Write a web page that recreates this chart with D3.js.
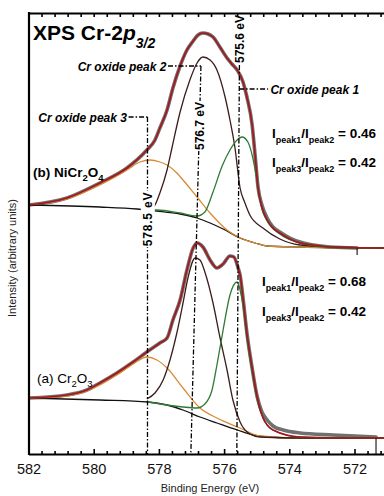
<!DOCTYPE html>
<html><head><meta charset="utf-8">
<script src="https://cdn.jsdelivr.net/npm/d3@7"></script>
<style>
html,body{margin:0;padding:0;background:#fff;}
svg{display:block;font-family:"Liberation Sans",Arial,sans-serif;}
</style></head><body>
<svg id="chart" width="384" height="496"></svg>
<script>
// ---------- data: [binding energy (eV), intensity (a.u.)] ----------
const majorTicks = [582, 580, 578, 576, 574, 572];
const minorStep = 0.4;

// (b) NiCr2O4 — upper spectrum
const topData = [[582.0,124.5],[580.82,128],[579.81,135.5],[578.98,143],[578.37,152],[578.12,157],[577.97,163],[577.75,172],[577.57,183],[577.35,194],[577.14,202],[576.95,206.5],[576.80,209.5],[576.65,210.5],[576.49,210],[576.34,208.5],[576.13,203.5],[575.91,198],[575.76,195],[575.60,192],[575.42,186],[575.30,178.5],[575.14,164.5],[575.05,149.5],[574.96,133.5],[574.84,124.5],[574.68,118],[574.50,113.5],[574.29,111],[573.98,108],[573.67,106],[573.27,104.5],[572.75,103.5],[571.92,103]];
const topFit = [[582.0,124.5],[580.82,128],[579.81,135.5],[578.98,143],[578.37,152],[578.12,157],[577.97,163],[577.75,172],[577.57,183],[577.35,194],[577.14,202],[576.95,206.5],[576.80,209.5],[576.65,210.5],[576.49,210],[576.34,208.5],[576.13,203.5],[575.91,198],[575.76,195],[575.60,192],[575.42,186],[575.30,178.5],[575.14,164.5],[575.05,149.5],[574.96,133],[574.84,123.5],[574.68,117],[574.50,113],[574.29,110.5],[573.98,107.5],[573.67,105.5],[573.27,104.5],[572.75,103.5],[571.09,103]];
const topBackground = [[582.0,124.5],[579.81,123.5],[578.67,122.5],[578.06,121.5],[577.35,120],[576.83,118],[576.43,115.5],[576.03,112.5],[575.51,108],[575.05,105.5],[574.68,104],[573.67,103.5],[571.09,103]];
const topPeak3 = [[582.0,124.5],[580.82,127.5],[579.81,134.5],[578.98,142],[578.58,146],[578.27,147],[577.97,146],[577.75,144.5],[577.45,140.5],[577.26,137],[576.83,128.5],[576.43,120.5],[575.91,112],[575.51,108],[575.05,105.5],[574.68,104],[573.67,103.5],[571.09,103]];
const topPeak2 = [[578.40,121.5],[578.27,122.5],[578.12,124.5],[577.97,130.5],[577.75,142],[577.60,153],[577.35,171],[577.05,187],[576.83,195.5],[576.65,198.5],[576.43,197],[576.22,192],[575.97,178.5],[575.82,167],[575.67,153.5],[575.51,133],[575.36,125.5],[575.21,119.5],[574.81,113],[574.29,107.5],[573.67,104.5],[572.75,103.5],[571.09,103]];
const topPeak1 = [[578.40,122],[578.06,122],[577.35,120.5],[576.83,119],[576.59,121],[576.34,131],[576.06,144],[575.82,152],[575.60,157],[575.45,158.5],[575.27,156],[575.14,149.5],[574.99,137],[574.84,122.5],[574.68,116.5],[574.29,110],[573.67,105.5],[572.75,103.5],[571.09,103]];

// (a) Cr2O3 — lower spectrum
const bottomData = [[582.0,28],[580.82,29.5],[580.21,32],[579.81,35.5],[579.29,40.5],[578.79,46],[578.37,51],[577.97,55.5],[577.75,58],[577.57,67],[577.35,77],[577.14,92],[576.95,103],[576.83,105.5],[576.65,103.5],[576.43,97],[576.22,93],[576.03,95],[575.82,99],[575.70,98.5],[575.57,93],[575.51,89.5],[575.42,78],[575.30,60.5],[575.14,43],[574.99,29],[574.84,21],[574.68,17],[574.50,14],[574.19,12],[573.67,10.5],[572.65,9.5],[571.34,8.5]];
const bottomFit = [[582.0,28],[580.82,29.5],[580.21,32],[579.81,35.5],[579.29,40.5],[578.79,46],[578.37,51],[577.97,55.5],[577.75,58],[577.57,67],[577.35,77],[577.14,92],[576.95,103],[576.83,105.5],[576.65,103.5],[576.43,97],[576.22,93],[576.03,95],[575.82,99],[575.70,98.5],[575.57,93],[575.51,89.5],[575.42,78],[575.30,60.5],[575.14,43],[574.99,29],[574.84,19.5],[574.50,12],[573.67,8.5],[572.65,8],[571.09,8]];
const bottomBackground = [[582.0,28],[579.81,27],[578.33,26],[577.75,24.5],[577.26,22],[576.74,18.5],[576.22,15.5],[575.60,12],[575.11,9.5],[574.68,8.5],[573.67,8],[571.09,8]];
const bottomPeak3 = [[582.0,28],[580.82,29],[580.21,31.5],[579.81,34.5],[579.29,39.5],[578.79,45],[578.37,48.5],[578.06,47],[577.75,43],[577.26,33],[576.74,23],[576.22,18],[575.51,13],[574.90,9],[573.67,8],[571.09,8]];
const bottomPeak2 = [[578.37,27.5],[578.12,30.5],[577.87,37],[577.66,47],[577.45,60.5],[577.26,75.5],[577.11,88],[576.89,98],[576.74,97],[576.59,91],[576.34,75.5],[576.13,58.5],[575.91,42],[575.73,27],[575.51,16],[575.21,10],[574.90,8.5],[573.67,8],[571.09,8]];
const bottomPeak1 = [[578.33,26],[577.26,23.5],[576.83,23],[576.59,25],[576.37,32],[576.22,44.5],[576.03,62],[575.82,79.5],[575.60,86],[575.51,82],[575.42,74.5],[575.30,58],[575.14,41],[574.99,27.5],[574.81,18],[574.50,12],[573.67,8.5],[571.09,8]];

// peak position guide lines: [energy, intensity] start -> end
const guideLines = [
  [[578.35,168.5],[578.35,0]],
  [[576.71,194],[577.02,0]],
  [[575.53,194.5],[575.61,0]]
];
const leaderLines = [
  [[578.93,168.5],[578.35,168.5]],
  [[577.72,194],[576.71,194]],
  [[575.54,182.5],[574.65,182.5]]
];
const peakLabels = [
  {text:"Cr oxide peak 3", e:578.98, I:168.5, anchor:"end"},
  {text:"Cr oxide peak 2", e:577.77, I:194, anchor:"end"},
  {text:"Cr oxide peak 1", e:574.58, I:182.5, anchor:"start"}
];
const energyLabels = [
  {text:"578.5 eV", e:578.35, I:117.5, bg:true, spacing:0.8},
  {text:"576.7 eV", e:576.76, I:164, bg:true, spacing:0},
  {text:"575.6 eV", e:575.52, I:207.5, bg:false, spacing:0}
];
const endMarks = [[571.92,103,99.5],[571.34,8,0]];
const ratiosTop = [["peak1","peak2","0.46"],["peak3","peak2","0.42"]];
const ratiosBottom = [["peak1","peak2","0.68"],["peak3","peak2","0.42"]];

// ---------- drawing ----------
const svg = d3.select("#chart");
const W = 384, H = 496;
const x = d3.scaleLinear().domain([582, 570]).range([28.5, 28.5 + 12*32.6]);
const y = d3.scaleLinear().domain([0, 220]).range([454, 14]);

svg.append("defs").append("clipPath").attr("id","clip")
  .append("rect").attr("x",29).attr("y",13).attr("width",W-29).attr("height",441);

const line = d3.line().x(d=>x(d[0])).y(d=>y(d[1])).curve(d3.curveMonotoneX);
const plot = svg.append("g").attr("clip-path","url(#clip)");

const colors = {bg:"#111", p3:"#d98c35", p2:"#3b1c1c", p1:"#2f7a34", data:"#707070", fit:"#a8141a"};
function drawSpectrum(bg, p3, p2, p1, data, fit){
  plot.append("path").attr("d",line(data)).attr("fill","none").attr("stroke",colors.data).attr("stroke-width",3.6).attr("stroke-linecap","round");
  plot.append("path").attr("d",line(bg)).attr("fill","none").attr("stroke",colors.bg).attr("stroke-width",1.3);
  plot.append("path").attr("d",line(p3)).attr("fill","none").attr("stroke",colors.p3).attr("stroke-width",1.3);
  plot.append("path").attr("d",line(p2)).attr("fill","none").attr("stroke",colors.p2).attr("stroke-width",1.3);
  plot.append("path").attr("d",line(p1)).attr("fill","none").attr("stroke",colors.p1).attr("stroke-width",1.3);
  plot.append("path").attr("d",line(fit)).attr("fill","none").attr("stroke",colors.fit).attr("stroke-width",1.6);
}
drawSpectrum(topBackground, topPeak3, topPeak2, topPeak1, topData, topFit);
drawSpectrum(bottomBackground, bottomPeak3, bottomPeak2, bottomPeak1, bottomData, bottomFit);

endMarks.forEach(m=>{
  plot.append("line").attr("x1",x(m[0])).attr("x2",x(m[0])).attr("y1",y(m[1])).attr("y2",y(m[2]))
    .attr("stroke","#222").attr("stroke-width",1.2);
});

const dash = "5,2,1.5,2";
guideLines.concat(leaderLines).forEach(l=>{
  plot.append("line").attr("x1",x(l[0][0])).attr("y1",y(l[0][1])).attr("x2",x(l[1][0])).attr("y2",y(l[1][1]))
    .attr("stroke","#000").attr("stroke-width",1.3).attr("stroke-dasharray",dash);
});

// energy labels (rotated)
energyLabels.forEach(lb=>{
  const g = svg.append("g").attr("transform",`translate(${x(lb.e)},${y(lb.I)}) rotate(-90)`);
  const t = g.append("text").attr("text-anchor","middle").attr("dy","0.36em")
    .attr("font-size",12).attr("font-weight","bold").attr("letter-spacing",lb.spacing).text(lb.text);
  if(lb.bg){
    const b = t.node().getBBox();
    g.insert("rect","text").attr("x",b.x-1).attr("y",b.y).attr("width",b.width+2).attr("height",b.height).attr("fill","#fff");
  }
});

// peak labels
peakLabels.forEach(lb=>{
  svg.append("text").attr("x",x(lb.e)).attr("y",y(lb.I)+4.5).attr("text-anchor",lb.anchor)
    .attr("font-size",12).attr("font-weight","bold").attr("font-style","italic").text(lb.text);
});

// title
const title = svg.append("text").attr("x",33).attr("y",40).attr("font-size",21).attr("font-weight","bold");
title.append("tspan").text("XPS Cr-2");
title.append("tspan").attr("font-style","italic").text("p");
title.append("tspan").attr("font-style","italic").attr("font-size",14).attr("dy",8).text("3/2");

// sample labels
function chem(xp, yp, parts, weight){
  const t = svg.append("text").attr("x",xp).attr("y",yp).attr("font-size",13.5).attr("font-weight",weight);
  let shift = 0;
  parts.forEach(p=>{
    const ts = t.append("tspan").text(p[0]);
    if(p[1]){ ts.attr("font-size",9.5).attr("dy",4-shift); shift = 4; }
    else { ts.attr("dy",-shift); shift = 0; }
  });
}
chem(33, 177, [["(b) NiCr"],["2",1],["O"],["4",1]], "bold");
chem(37, 383, [["(a) Cr"],["2",1],["O"],["3",1]], "normal");

// ratios
function ratio(xp, yp, r){
  const t = svg.append("text").attr("x",xp).attr("y",yp).attr("font-size",13.5).attr("font-weight","bold");
  t.append("tspan").text("I");
  t.append("tspan").attr("font-size",9).attr("dy",5).text(r[0]);
  t.append("tspan").attr("dy",-5).text("/I");
  t.append("tspan").attr("font-size",9).attr("dy",5).text(r[1]);
  t.append("tspan").attr("dy",-5).text(" = " + r[2]);
}
ratio(272, 138, ratiosTop[0]);
ratio(272, 167, ratiosTop[1]);
ratio(262, 286, ratiosBottom[0]);
ratio(262, 316, ratiosBottom[1]);

// axes
const minorTicks = d3.range(0, 31).map(i => +(582 - minorStep*i).toFixed(1)).filter(v => !majorTicks.includes(v));
const bx = svg.append("g").attr("transform","translate(0,454)")
  .call(d3.axisBottom(x).tickValues(majorTicks).tickSize(-5).tickSizeOuter(0).tickPadding(9.5).tickFormat(d3.format("d")));
bx.select(".domain").attr("stroke-width",2.2);
bx.selectAll(".tick line").attr("stroke-width",1.6);
bx.selectAll("text").attr("font-size",14.5).attr("font-family","Liberation Sans, Arial, sans-serif").attr("fill","#111");
const bxm = svg.append("g").attr("transform","translate(0,454)")
  .call(d3.axisBottom(x).tickValues(minorTicks).tickSize(-3).tickSizeOuter(0).tickFormat(""));
bxm.select(".domain").remove();
bxm.selectAll(".tick line").attr("stroke-width",1.6);

const tx = svg.append("g").attr("transform","translate(0,13)")
  .call(d3.axisTop(x).tickValues(majorTicks.concat(minorTicks)).tickSize(-4).tickSizeOuter(0).tickFormat(""));
tx.select(".domain").attr("stroke-width",2.2);
tx.selectAll(".tick line").attr("stroke-width",1.6);

svg.append("line").attr("x1",29).attr("x2",29).attr("y1",12).attr("y2",455).attr("stroke","#000").attr("stroke-width",2.2);

svg.append("text").attr("x",210).attr("y",492).attr("text-anchor","middle").attr("font-size",11).attr("fill","#222").text("Binding Energy (eV)");
svg.append("text").attr("transform","translate(16,258) rotate(-90)").attr("text-anchor","middle").attr("font-size",11).attr("fill","#222").text("Intensity (arbitrary units)");
</script>
</body></html>
